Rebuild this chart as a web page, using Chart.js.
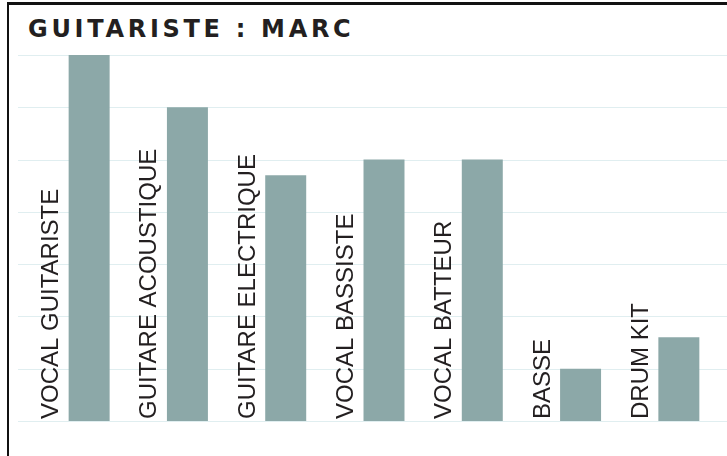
<!DOCTYPE html>
<html>
<head>
<meta charset="utf-8">
<script src="https://cdn.jsdelivr.net/npm/chart.js@4.4.0/dist/chart.umd.min.js"></script>
<style>
    html, body { margin: 0; padding: 0; background: #fff; overflow: hidden; width: 727px; height: 456px; }
    .frame {
        position: absolute; left: 7px; top: 2px; width: 800px; height: 520px;
        border-left: 2px solid #111; border-top: 3px solid #111;
    }
    .title {
        position: absolute; left: 28px; top: 14px;
        font-family: "DejaVu Sans", Inter, sans-serif; font-weight: bold;
        font-size: 24px; letter-spacing: 3.7px; color: #231f20; line-height: 30px;
        white-space: nowrap;
    }
    .wrap { position: absolute; left: 0; top: 0; width: 730px; height: 456px; }
</style>
</head>
<body>
<div class="frame"></div>
<div class="title">GUITARISTE : MARC</div>
<div class="wrap"><canvas id="skillChart"></canvas></div>
<script>
const categories = [
    'VOCAL GUITARISTE',
    'GUITARE ACOUSTIQUE',
    'GUITARE ELECTRIQUE',
    'VOCAL BASSISTE',
    'VOCAL BATTEUR',
    'BASSE',
    'DRUM KIT'
];
const levels = [7, 6, 4.7, 5, 5, 1, 1.6];
const yMin = 0;
const yMax = 7;
const yStep = 1;

// grille horizontale : démarre un peu avant la zone du graphique
const gridLines = {
    id: 'gridLines',
    beforeDatasetsDraw(chart) {
        const { ctx, scales: { y } } = chart;
        ctx.save();
        ctx.strokeStyle = '#e0eef0';
        ctx.lineWidth = 1;
        y.ticks.forEach(t => {
            const py = Math.round(y.getPixelForValue(t.value)) + 0.5;
            ctx.beginPath();
            ctx.moveTo(18, py);
            ctx.lineTo(chart.width, py);
            ctx.stroke();
        });
        ctx.restore();
    }
};

// libellés verticaux à gauche de chaque barre
const sideLabels = {
    id: 'sideLabels',
    afterDatasetsDraw(chart) {
        const { ctx, chartArea } = chart;
        const meta = chart.getDatasetMeta(0);
        ctx.save();
        ctx.fillStyle = '#231f20';
        ctx.font = '24px "Liberation Sans", Arial, sans-serif';
        ctx.textAlign = 'left';
        ctx.textBaseline = 'alphabetic';
        meta.data.forEach((bar, i) => {
            const x = bar.x - bar.width / 2 - 10.5;
            ctx.save();
            ctx.translate(x, chartArea.bottom - 2);
            ctx.rotate(-Math.PI / 2);
            ctx.fillText(chart.data.labels[i], 0, 0);
            ctx.restore();
        });
        ctx.restore();
    }
};

new Chart(document.getElementById('skillChart'), {
    type: 'bar',
    data: {
        labels: categories,
        datasets: [{
            data: levels,
            backgroundColor: '#8ca8a8',
            borderWidth: 0,
            categoryPercentage: 1,
            barPercentage: 0.417
        }]
    },
    options: {
        responsive: true,
        maintainAspectRatio: false,
        animation: false,
        layout: { padding: { left: 40, right: 2, top: 55, bottom: 35 } },
        plugins: {
            legend: { display: false },
            tooltip: { enabled: false },
            title: { display: false }
        },
        scales: {
            x: { display: false },
            y: {
                display: false,
                min: yMin,
                max: yMax,
                ticks: { stepSize: yStep }
            }
        }
    },
    plugins: [gridLines, sideLabels]
});
</script>
</body>
</html>
